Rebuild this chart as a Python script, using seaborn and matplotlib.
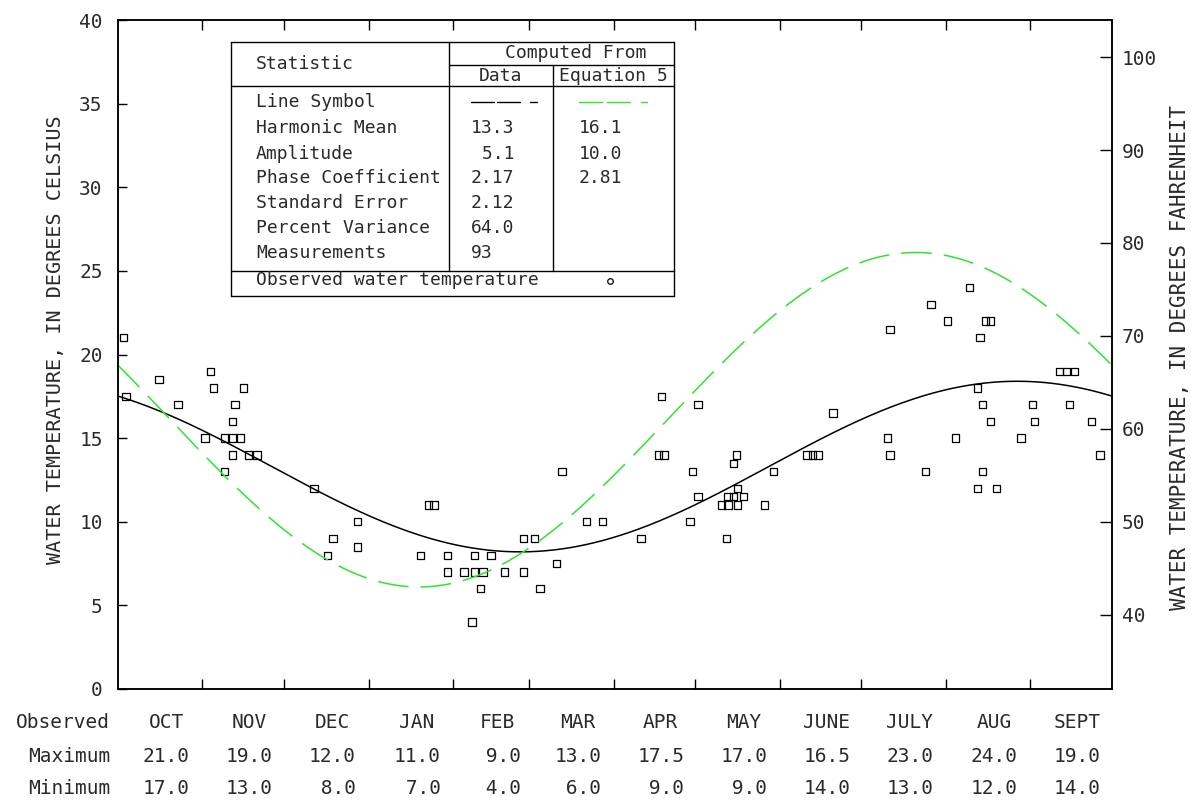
# Water temperature: observed values and harmonic curves
import numpy as np
import pandas as pd
import seaborn as sns
import matplotlib.pyplot as plt
from matplotlib.lines import Line2D
from matplotlib.transforms import blended_transform_factory

# observed water temperature, day of water year (0 = Oct 1) and deg C
obs_day = [2, 3, 15, 22, 32, 34, 35, 46, 43, 42, 39, 42, 45, 42, 48, 51, 39,
           72, 88, 79, 88, 77,
           114, 116, 163, 172, 178, 149, 153, 161, 111, 121, 131, 137,
           121, 127, 131, 134, 142, 149, 133, 155, 130,
           199.5, 213, 198.5, 200.5, 211, 213, 210, 192,
           227, 226, 240.6, 227.4, 224, 226, 229.6, 221.5, 224, 227.5, 237.5, 223.4,
           262.5, 253, 255, 257,
           282.5, 283.5, 283.5, 298.5, 304.6, 318.5, 320.5, 312.6, 316.5,
           345.7, 348.4, 351.2, 315.5, 317.5, 335.7, 349.5, 320.5, 336.5, 357.5,
           307.5, 331.6, 360.6, 296.6, 317.5, 315.5, 322.6]
obs_temp = [21.0, 17.5, 18.5, 17.0, 15.0, 19.0, 18.0, 18.0, 17.0, 16.0, 15.0, 15.0, 15.0, 14.0, 14.0, 14.0, 13.0,
            12.0, 10.0, 9.0, 8.5, 8.0,
            11.0, 11.0, 13.0, 10.0, 10.0, 9.0, 9.0, 7.5, 8.0, 8.0, 8.0, 8.0,
            7.0, 7.0, 7.0, 7.0, 7.0, 7.0, 6.0, 6.0, 4.0,
            17.5, 17.0, 14.0, 14.0, 13.0, 11.5, 10.0, 9.0,
            14.0, 13.5, 13.0, 12.0, 11.5, 11.5, 11.5, 11.0, 11.0, 11.0, 11.0, 9.0,
            16.5, 14.0, 14.0, 14.0,
            15.0, 14.0, 21.5, 23.0, 22.0, 22.0, 22.0, 24.0, 21.0,
            19.0, 19.0, 19.0, 18.0, 17.0, 17.0, 17.0, 16.0, 16.0, 16.0,
            15.0, 15.0, 14.0, 13.0, 13.0, 12.0, 12.0]

# harmonic parameters (Data, Equation 5)
fit_mean = [13.3, 16.1]
fit_amp = [5.1, 10.0]
fit_phase = [2.17, 2.81]

month_names = ["OCT", "NOV", "DEC", "JAN", "FEB", "MAR", "APR", "MAY", "JUNE", "JULY", "AUG", "SEPT"]
month_len = [31, 30, 31, 31, 28, 31, 30, 31, 30, 31, 31, 30]
month_max = [21.0, 19.0, 12.0, 11.0, 9.0, 13.0, 17.5, 17.0, 16.5, 23.0, 24.0, 19.0]
month_min = [17.0, 13.0, 8.0, 7.0, 4.0, 6.0, 9.0, 9.0, 14.0, 13.0, 12.0, 14.0]

stat_names = ["Line Symbol", "Harmonic Mean", "Amplitude", "Phase Coefficient",
              "Standard Error", "Percent Variance", "Measurements"]
stat_data = ["", "13.3", " 5.1", "2.17", "2.12", "64.0", "93"]
stat_eq5 = ["", "16.1", "10.0", "2.81", "", "", ""]

GREEN = "#2ee62e"
TXT = "#2a2a2a"
W, H = 1191, 802

sns.set_style("white")
plt.rcParams['font.family'] = ['DejaVu Sans Mono', 'DejaVu Sans']
plt.rcParams['text.color'] = TXT

fig = plt.figure(figsize=(W / 100, H / 100), dpi=100)
ax = fig.add_axes([118 / W, 1 - 689 / H, (1112 - 118) / W, (689 - 20) / H])


def fx(x):
    return x / W


def fy(y):
    return 1 - y / H


# curves from the harmonic parameters
days = np.arange(0, 366)
curves = pd.DataFrame({
    "day": days,
    "data": fit_mean[0] + fit_amp[0] * np.sin(2 * np.pi * days / 365 + fit_phase[0]),
    "eq5": fit_mean[1] + fit_amp[1] * np.sin(2 * np.pi * days / 365 + fit_phase[1]),
})
sns.lineplot(data=curves, x="day", y="data", color="black", lw=1.1, ax=ax)
sns.lineplot(data=curves, x="day", y="eq5", color=GREEN, lw=1.1,
             linestyle=(0, (20, 8)), ax=ax)

obs = pd.DataFrame({"day": obs_day, "temp": obs_temp})
sns.scatterplot(data=obs, x="day", y="temp", marker="s", s=28,
                facecolors="none", edgecolor="black", linewidth=0.9, ax=ax)

ax.set_xlim(0, 365)
ax.set_ylim(0, 40)
ax.set_xlabel("")
ax.set_ylabel("")
bounds = np.cumsum(month_len)[:-1]
ax.set_xticks(bounds)
ax.tick_params(axis="x", direction="in", length=7.5, width=1, top=True,
               bottom=True, labelbottom=False, color="black")
ax.set_yticks(range(0, 41, 5))
ax.tick_params(axis="y", direction="in", length=6.5, width=1, labelsize=14,
               pad=11, color="black", labelcolor=TXT)
for sp in ax.spines.values():
    sp.set_color("black")
    sp.set_linewidth(1.1)

ax2 = ax.twinx()
ax2.set_ylim(32, 104)
ax2.set_yticks(range(40, 101, 10))
ax2.tick_params(axis="y", direction="in", length=9, width=1, labelsize=14,
                pad=7, color="black", labelcolor=TXT)
for sp in ax2.spines.values():
    sp.set_color("black")
    sp.set_linewidth(1.1)

fig.text(fx(56), fy(340), "WATER TEMPERATURE, IN DEGREES CELSIUS", rotation=90,
         ha="center", va="center", fontsize=14.5)
fig.text(fx(1180), fy(357), "WATER TEMPERATURE, IN DEGREES FAHRENHEIT", rotation=90,
         ha="center", va="center", fontsize=15)

# monthly summary rows under the axis
trans = blended_transform_factory(ax.transData, fig.transFigure)
starts = np.concatenate([[0], bounds])
mids = starts + np.array(month_len) / 2 + 2.3
for lbl, y in [("Observed", 722), ("Maximum", 757), ("Minimum", 789)]:
    fig.text(fx(110), fy(y), lbl, ha="right", va="center", fontsize=14)
for m, name, mx, mn in zip(mids, month_names, month_max, month_min):
    ax.text(m, fy(722), name, transform=trans, ha="center", va="center", fontsize=14)
    ax.text(m, fy(757), f"{mx:4.1f}", transform=trans, ha="center", va="center", fontsize=14)
    ax.text(m, fy(789), f"{mn:4.1f}", transform=trans, ha="center", va="center", fontsize=14)


# statistics table
def seg(x0, x1, y0, y1, color="black", lw=1.0):
    fig.add_artist(Line2D([fx(x0), fx(x1)], [fy(y0), fy(y1)],
                          transform=fig.transFigure, color=color, lw=lw))


L, R, T, B = 231, 674, 42, 296
seg(L, R, T, T)
seg(L, R, B, B)
seg(L, L, T, B)
seg(R, R, T, B)
seg(449, R, 65, 65)
seg(L, R, 86, 86)
seg(L, R, 271, 271)
seg(449, 449, T, 271)
seg(553, 553, 65, 271)

fs = 13
fig.text(fx(256), fy(64), "Statistic", ha="left", va="center", fontsize=fs)
fig.text(fx(576), fy(53), "Computed From", ha="center", va="center", fontsize=fs)
fig.text(fx(501), fy(76), "Data", ha="center", va="center", fontsize=fs)
fig.text(fx(613), fy(76), "Equation 5", ha="center", va="center", fontsize=fs)
row_y = [102, 128, 154, 178, 203, 228, 253]
for y, name, d, e in zip(row_y, stat_names, stat_data, stat_eq5):
    fig.text(fx(256), fy(y), name, ha="left", va="center", fontsize=fs)
    fig.text(fx(471), fy(y), d, ha="left", va="center", fontsize=fs)
    fig.text(fx(579), fy(y), e, ha="left", va="center", fontsize=fs)
fig.text(fx(256), fy(280), "Observed water temperature", ha="left", va="center", fontsize=fs)
fig.add_artist(Line2D([fx(610)], [fy(281)], transform=fig.transFigure, marker="o",
                      markersize=4, mfc="none", mec="black", mew=0.9, ls="none"))

# line symbols
for a, b in [(471, 494), (497, 520), (530, 537)]:
    seg(a, b, 102, 102)
for a, b in [(579, 602), (607, 630), (641, 647)]:
    seg(a, b, 102, 102, color=GREEN)

fig.savefig("out.png", dpi=100)
